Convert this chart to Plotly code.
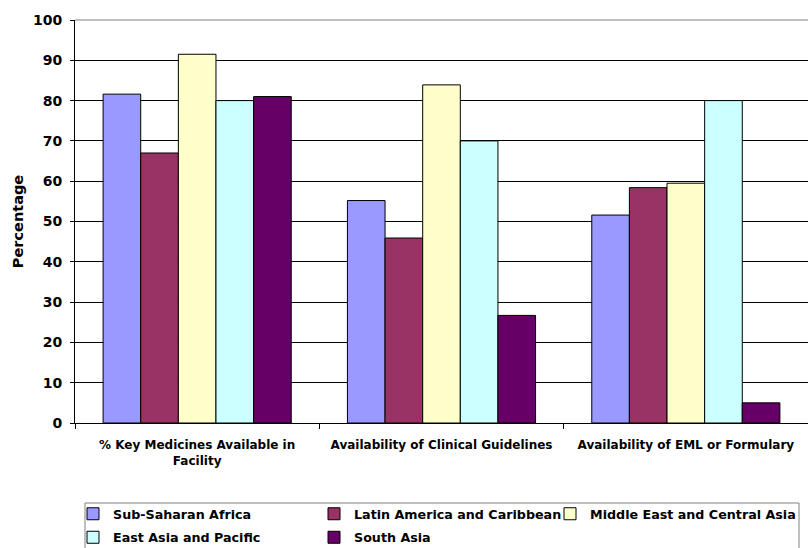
import plotly.graph_objects as go

# Indicators along the x axis
categories = [
    "% Key Medicines Available in<br>Facility",
    "Availability of Clinical Guidelines",
    "Availability of EML or Formulary",
]

# Regions (one bar series each)
regions = [
    "Sub-Saharan Africa",
    "Latin America and Caribbean",
    "Middle East and Central Asia",
    "East Asia and Pacific",
    "South Asia",
]

# Percentage values per region, in the order of `categories`
sub_saharan_africa = [81.6, 55.2, 51.6]
latin_america_caribbean = [67.0, 45.9, 58.4]
middle_east_central_asia = [91.5, 83.9, 59.5]
east_asia_pacific = [80.0, 70.0, 80.0]
south_asia = [81.0, 26.7, 5.0]

series = [
    sub_saharan_africa,
    latin_america_caribbean,
    middle_east_central_asia,
    east_asia_pacific,
    south_asia,
]
colors = ["#9999FF", "#993366", "#FFFFCC", "#CCFFFF", "#660066"]
# legend column each region is listed in (3 columns, filled row by row)
legend_columns = ["legend", "legend2", "legend3", "legend", "legend2"]

y_ticks = list(range(0, 101, 10))

FONT = "Verdana, DejaVu Sans, sans-serif"

W, H = 808, 548
M_L, M_R, M_T, M_B = 75, 0, 20, 125
PLOT_W = W - M_L - M_R
PLOT_H = H - M_T - M_B


def px_to_paper_x(px):
    return (px - M_L) / PLOT_W


def px_to_paper_y(py):
    return (H - M_B - py) / PLOT_H


fig = go.Figure()
for name, vals, col, leg in zip(regions, series, colors, legend_columns):
    fig.add_trace(go.Bar(
        name=name,
        x=categories,
        y=vals,
        legend=leg,
        legendgroup=name,
        marker=dict(color=col, line=dict(color="#000000", width=1)),
    ))

legend_font = dict(family=FONT, size=12.7, color="#000000", weight="bold")


def column_legend(left_px):
    return dict(
        orientation="v",
        x=px_to_paper_x(left_px),
        xanchor="left",
        y=px_to_paper_y(499),
        yanchor="top",
        borderwidth=0,
        bgcolor="rgba(0,0,0,0)",
        font=legend_font,
        tracegroupgap=4,
        traceorder="grouped",
    )


fig.update_layout(
    width=W,
    height=H,
    margin=dict(l=M_L, r=M_R, t=M_T, b=M_B, autoexpand=False),
    paper_bgcolor="white",
    plot_bgcolor="white",
    barmode="group",
    bargap=0.23,
    bargroupgap=0,
    font=dict(family=FONT, color="#000000", weight="bold"),
    legend=column_legend(73),
    legend2=column_legend(314),
    legend3=column_legend(550),
    xaxis=dict(
        type="category",
        range=[-0.5, 2.5],
        showline=True,
        linecolor="#000000",
        linewidth=1,
        ticks="outside",
        tickson="boundaries",
        ticklen=5,
        tickcolor="#000000",
        showgrid=False,
        tickfont=dict(family=FONT, size=12, color="#000000", weight="bold"),
        ticklabelstandoff=11,
    ),
    yaxis=dict(
        range=[0, 100],
        tickvals=y_ticks,
        showline=True,
        linecolor="#000000",
        linewidth=1,
        ticks="outside",
        ticklen=4,
        tickcolor="#000000",
        showgrid=True,
        gridcolor="#000000",
        gridwidth=1,
        zeroline=False,
        tickfont=dict(family=FONT, size=14, color="#000000", weight="bold"),
        ticklabelstandoff=5,
        title=dict(
            text="Percentage",
            font=dict(family=FONT, size=14.5, color="#000000", weight="bold"),
            standoff=5,
        ),
    ),
    shapes=[
        # grey frame line across the top of the plotting area
        dict(type="line", xref="paper", yref="paper", x0=0, x1=1, y0=1, y1=1,
             line=dict(color="#808080", width=1), layer="above"),
        # frame around the three legend columns
        dict(type="rect", xref="paper", yref="paper",
             x0=px_to_paper_x(85), x1=px_to_paper_x(799),
             y0=px_to_paper_y(503), y1=px_to_paper_y(560),
             line=dict(color="#808080", width=1), fillcolor="rgba(0,0,0,0)",
             layer="below"),
    ],
)

fig.write_html("out.html")
